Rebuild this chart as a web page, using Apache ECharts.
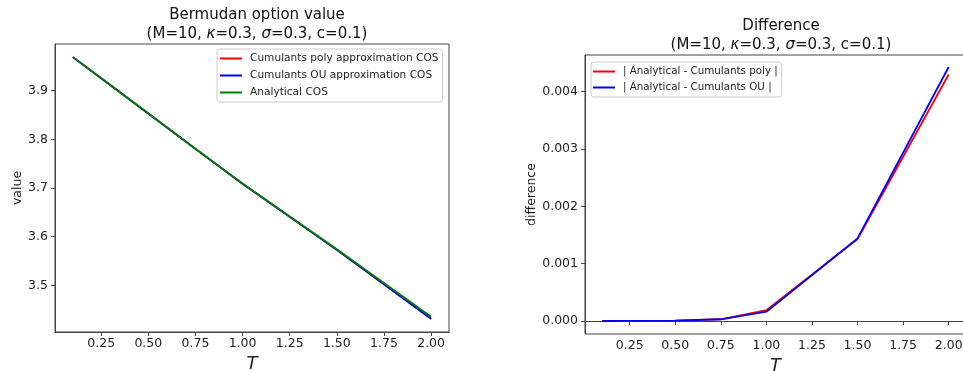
<!DOCTYPE html>
<html>
<head>
<meta charset="utf-8">
<script src="https://cdn.jsdelivr.net/npm/echarts@6/dist/echarts.min.js"></script>
<style>
  html, body { margin: 0; padding: 0; background: #fff; }
  #chart { width: 963px; height: 371px; }
</style>
</head>
<body>
<div id="chart"></div>
<script>
// Maturities T
const maturities = [0.1, 0.25, 0.5, 0.75, 1.0, 1.5, 2.0];

// Bermudan option values
const polyCOS = [3.96900, 3.92550, 3.85299, 3.78047, 3.70861, 3.57287, 3.43120];
const ouCOS = [3.96900, 3.92550, 3.85299, 3.78047, 3.70864, 3.57286, 3.43107];
const analyticalCOS = [3.96900, 3.92550, 3.85300, 3.78050, 3.70880, 3.57430, 3.43550];

// Absolute differences
const diffPoly = [0.0, 0.000002, 0.000008, 0.00003, 0.00019, 0.00143, 0.00430];
const diffOU = [0.0, 0.000002, 0.000008, 0.00003, 0.000162, 0.00144, 0.00443];

// Tick labels
const xTicks = [0.25, 0.5, 0.75, 1.0, 1.25, 1.5, 1.75, 2.0];
const valueTicks = [3.5, 3.6, 3.7, 3.8, 3.9];
const diffTicks = [0.0, 0.001, 0.002, 0.003, 0.004];

const FONT = 'DejaVu Sans';
const INK = '#222';
const SPINE = '#444';

function pairs(xs, ys) { return xs.map((x, i) => [x, ys[i]]); }

function xAxisFor(gridIndex) {
  return {
    type: 'value', gridIndex, min: 0.005, max: 2.095,
    name: 'T', nameLocation: 'middle', nameGap: 21,
    nameTextStyle: { fontFamily: FONT, fontStyle: 'italic', fontSize: 18, color: INK },
    splitLine: { show: false },
    axisLine: { show: true, lineStyle: { color: SPINE, width: 1 } },
    axisTick: { show: true, length: 4, customValues: xTicks, lineStyle: { color: SPINE } },
    axisLabel: { customValues: xTicks, margin: 5, fontFamily: FONT, fontSize: 12.5, color: INK,
      formatter: v => v.toFixed(2) }
  };
}

function yAxisFor(gridIndex, min, max, ticks, digits, name, gap) {
  return {
    type: 'value', gridIndex, min, max,
    name, nameLocation: 'middle', nameGap: gap,
    nameTextStyle: { fontFamily: FONT, fontSize: 12.5, color: INK },
    splitLine: { show: false },
    axisLine: { show: true, lineStyle: { color: SPINE, width: 1 } },
    axisTick: { show: true, length: 4, customValues: ticks, lineStyle: { color: SPINE } },
    axisLabel: { customValues: ticks, margin: 7, fontFamily: FONT, fontSize: 12.5, color: INK,
      formatter: v => v.toFixed(digits) }
  };
}

function line(name, xi, data, color) {
  return {
    name, type: 'line', xAxisIndex: xi, yAxisIndex: xi, data,
    symbol: 'none', lineStyle: { color, width: 1.8 }, itemStyle: { color },
    animation: false
  };
}

const titleRich = {
  t: { fontFamily: FONT, fontSize: 15, fontWeight: 'normal', color: '#111', lineHeight: 19 },
  i: { fontFamily: FONT, fontSize: 15, fontWeight: 'normal', color: '#111', fontStyle: 'italic', lineHeight: 19 }
};
const subtitle = '{t|(M=10, }{i|κ}{t|=0.3, }{i|σ}{t|=0.3, c=0.1)}';

function legendStyle(fontSize) {
  return {
    orient: 'vertical', icon: 'rect', itemWidth: 22, itemHeight: 2,
    backgroundColor: '#fff', borderColor: '#ccc', borderWidth: 1, borderRadius: 3,
    textStyle: { fontFamily: FONT, fontSize, color: INK, padding: [0, 0, 0, 3], lineHeight: 13 },
    selectedMode: false
  };
}

const chart = echarts.init(document.getElementById('chart'), null, { renderer: 'canvas' });
chart.setOption({
  backgroundColor: '#fff',
  animation: false,
  title: [
    { text: '{t|Bermudan option value}\n' + subtitle, left: 252, top: 1, textAlign: 'center',
      textStyle: { fontWeight: 'normal', rich: titleRich } },
    { text: '{t|Difference}\n' + subtitle, left: 776, top: 12, textAlign: 'center',
      textStyle: { fontWeight: 'normal', rich: titleRich } }
  ],
  grid: [
    { left: 55, top: 44, width: 394, height: 288, outerBoundsMode: 'none', containLabel: false,
      show: true, borderColor: SPINE, borderWidth: 1, backgroundColor: 'transparent' },
    { left: 585, top: 55, width: 381, height: 279, outerBoundsMode: 'none', containLabel: false,
      show: true, borderColor: SPINE, borderWidth: 1, backgroundColor: 'transparent' }
  ],
  legend: [
    Object.assign(legendStyle(10.6), {
      left: 217, top: 49, padding: [3, 4, 3, 3], itemGap: 4,
      data: ['Cumulants poly approximation COS', 'Cumulants OU approximation COS', 'Analytical COS']
    }),
    Object.assign(legendStyle(10.3), {
      left: 591, top: 62, padding: [3, 4, 3, 2], itemGap: 3,
      data: ['| Analytical - Cumulants poly |', '| Analytical - Cumulants OU |']
    })
  ],
  xAxis: [xAxisFor(0), xAxisFor(1)],
  yAxis: [
    yAxisFor(0, 3.404, 3.996, valueTicks, 1, 'value', 31),
    yAxisFor(1, -0.000227, 0.00464, diffTicks, 3, 'difference', 46)
  ],
  series: [
    line('Cumulants poly approximation COS', 0, pairs(maturities, polyCOS), '#ff0000'),
    line('Cumulants OU approximation COS', 0, pairs(maturities, ouCOS), '#0000ff'),
    line('Analytical COS', 0, pairs(maturities, analyticalCOS), '#008000'),
    line('| Analytical - Cumulants poly |', 1, pairs(maturities, diffPoly), '#ff0000'),
    line('| Analytical - Cumulants OU |', 1, pairs(maturities, diffOU), '#0000ff')
  ]
});
</script>
</body>
</html>
